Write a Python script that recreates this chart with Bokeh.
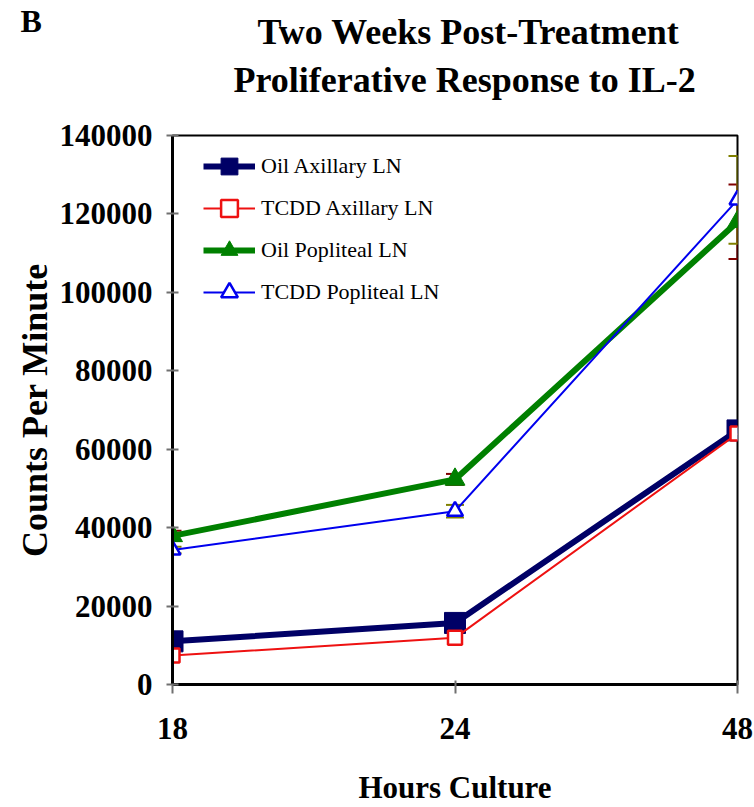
from bokeh.plotting import figure
from bokeh.models import (Range1d, FixedTicker, Whisker, TeeHead, ColumnDataSource,
                          Legend, LegendItem, Title, NumeralTickFormatter)
from bokeh.embed import file_html
from bokeh.resources import INLINE

# ---- data ----
hours = ["18", "24", "48"]
oil_axillary = [11000, 15700, 64800]
tcdd_axillary = [7400, 11900, 64000]
oil_popliteal = [37900, 52300, 118000]
tcdd_popliteal = [34300, 44200, 123600]
oil_popliteal_err = [1300, 1400, 9500]
tcdd_popliteal_err = [800, 1600, 11200]
y_ticks = [0, 20000, 40000, 60000, 80000, 100000, 120000, 140000]

title_lines = ["Two Weeks Post-Treatment", "Proliferative Response to IL-2"]
panel_letter = "B"

xpos = list(range(len(hours)))
SERIF = "Liberation Serif"

p = figure(width=754, height=807, output_backend="svg", toolbar_location=None,
           x_range=Range1d(0, len(hours) - 1), y_range=Range1d(0, 140000),
           min_border_left=172, min_border_right=17, min_border_top=135,
           min_border_bottom=121)
p.grid.visible = False
p.outline_line_color = "black"
p.outline_line_width = 2
p.background_fill_color = "white"
p.border_fill_color = "white"

# axes
p.xaxis.ticker = FixedTicker(ticks=xpos)
p.xaxis.major_label_overrides = {i: h for i, h in enumerate(hours)}
p.yaxis.ticker = FixedTicker(ticks=y_ticks)
p.yaxis.formatter = NumeralTickFormatter(format="0")
p.yaxis.minor_tick_line_color = None
p.xaxis.minor_tick_line_color = None
for ax in (p.xaxis, p.yaxis):
    ax.axis_line_color = "black"
    ax.axis_line_width = 3
    ax.major_tick_line_color = "#707070"
    ax.major_tick_line_width = 2
    ax.major_label_text_font = SERIF
    ax.major_label_text_font_style = "bold"
    ax.major_label_text_font_size = "31px"
    ax.major_label_text_color = "black"
    ax.axis_label_text_font = SERIF
    ax.axis_label_text_font_style = "bold"
    ax.axis_label_text_color = "black"
p.yaxis.major_tick_in = 6
p.yaxis.major_tick_out = 6
p.yaxis.major_label_standoff = 14
p.yaxis.axis_label = "Counts Per Minute"
p.yaxis.axis_label_text_font_size = "36px"
p.yaxis.axis_label_standoff = 2
p.xaxis.major_tick_in = 4
p.xaxis.major_tick_out = 9
p.xaxis.major_label_standoff = 24
p.xaxis.axis_label = "Hours Culture"
p.xaxis.axis_label_text_font_size = "31px"
p.xaxis.axis_label_standoff = 28

# series
l1 = p.line(xpos, oil_axillary, line_color="#000066", line_width=6)
s1 = p.scatter(xpos, oil_axillary, marker="square", size=21, fill_color="#000066",
               line_color="#000066")
l2 = p.line(xpos, tcdd_axillary, line_color="#ee1111", line_width=2)
s2 = p.scatter(xpos, tcdd_axillary, marker="square", size=14, fill_color="white",
               line_color="#ee1111", line_width=2.5)
l3 = p.line(xpos, oil_popliteal, line_color="#008000", line_width=6)
s3 = p.scatter(xpos, oil_popliteal, marker="triangle", size=20, fill_color="#008000",
               line_color="#008000")
l4 = p.line(xpos, tcdd_popliteal, line_color="#0000ee", line_width=2)
s4 = p.scatter(xpos, tcdd_popliteal, marker="triangle", size=16, fill_color="white",
               line_color="#0000ee", line_width=2.5)

# error bars
for vals, errs, col in ((oil_popliteal, oil_popliteal_err, "#800000"),
                        (tcdd_popliteal, tcdd_popliteal_err, "#808000")):
    src = ColumnDataSource(dict(x=xpos,
                                upper=[v + e for v, e in zip(vals, errs)],
                                lower=[v - e for v, e in zip(vals, errs)]))
    w = Whisker(source=src, base="x", upper="upper", lower="lower",
                line_color=col, line_width=2,
                upper_head=TeeHead(size=18, line_color=col, line_width=2),
                lower_head=TeeHead(size=18, line_color=col, line_width=2))
    p.add_layout(w)

legend = Legend(items=[
    LegendItem(label="Oil Axillary LN", renderers=[l1, s1]),
    LegendItem(label="TCDD Axillary LN", renderers=[l2, s2]),
    LegendItem(label="Oil Popliteal LN", renderers=[l3, s3]),
    LegendItem(label="TCDD Popliteal LN", renderers=[l4, s4]),
], location=(31, 371))
legend.margin = 0
legend.padding = 0
legend.spacing = 0
legend.glyph_width = 52
legend.glyph_height = 42
legend.label_standoff = 6
legend.label_text_font = SERIF
legend.label_text_font_size = "22px"
legend.label_text_color = "black"
legend.border_line_alpha = 0
legend.background_fill_alpha = 0
p.add_layout(legend)

# two-line title (later added = farther from the frame) and panel letter
p.add_layout(Title(text=title_lines[1], align="left", offset=61, standoff=72,
                   text_font=SERIF, text_font_style="bold", text_font_size="36px",
                   text_color="black"), "above")
p.add_layout(Title(text=title_lines[0], align="left", offset=85, standoff=-60,
                   text_font=SERIF, text_font_style="bold", text_font_size="36px",
                   text_color="black"), "above")
p.add_layout(Title(text=panel_letter, align="left", offset=-152, standoff=-34,
                   text_font=SERIF, text_font_style="bold", text_font_size="32px",
                   text_color="black"), "above")

open("out.html", "w").write(file_html(p, INLINE))
